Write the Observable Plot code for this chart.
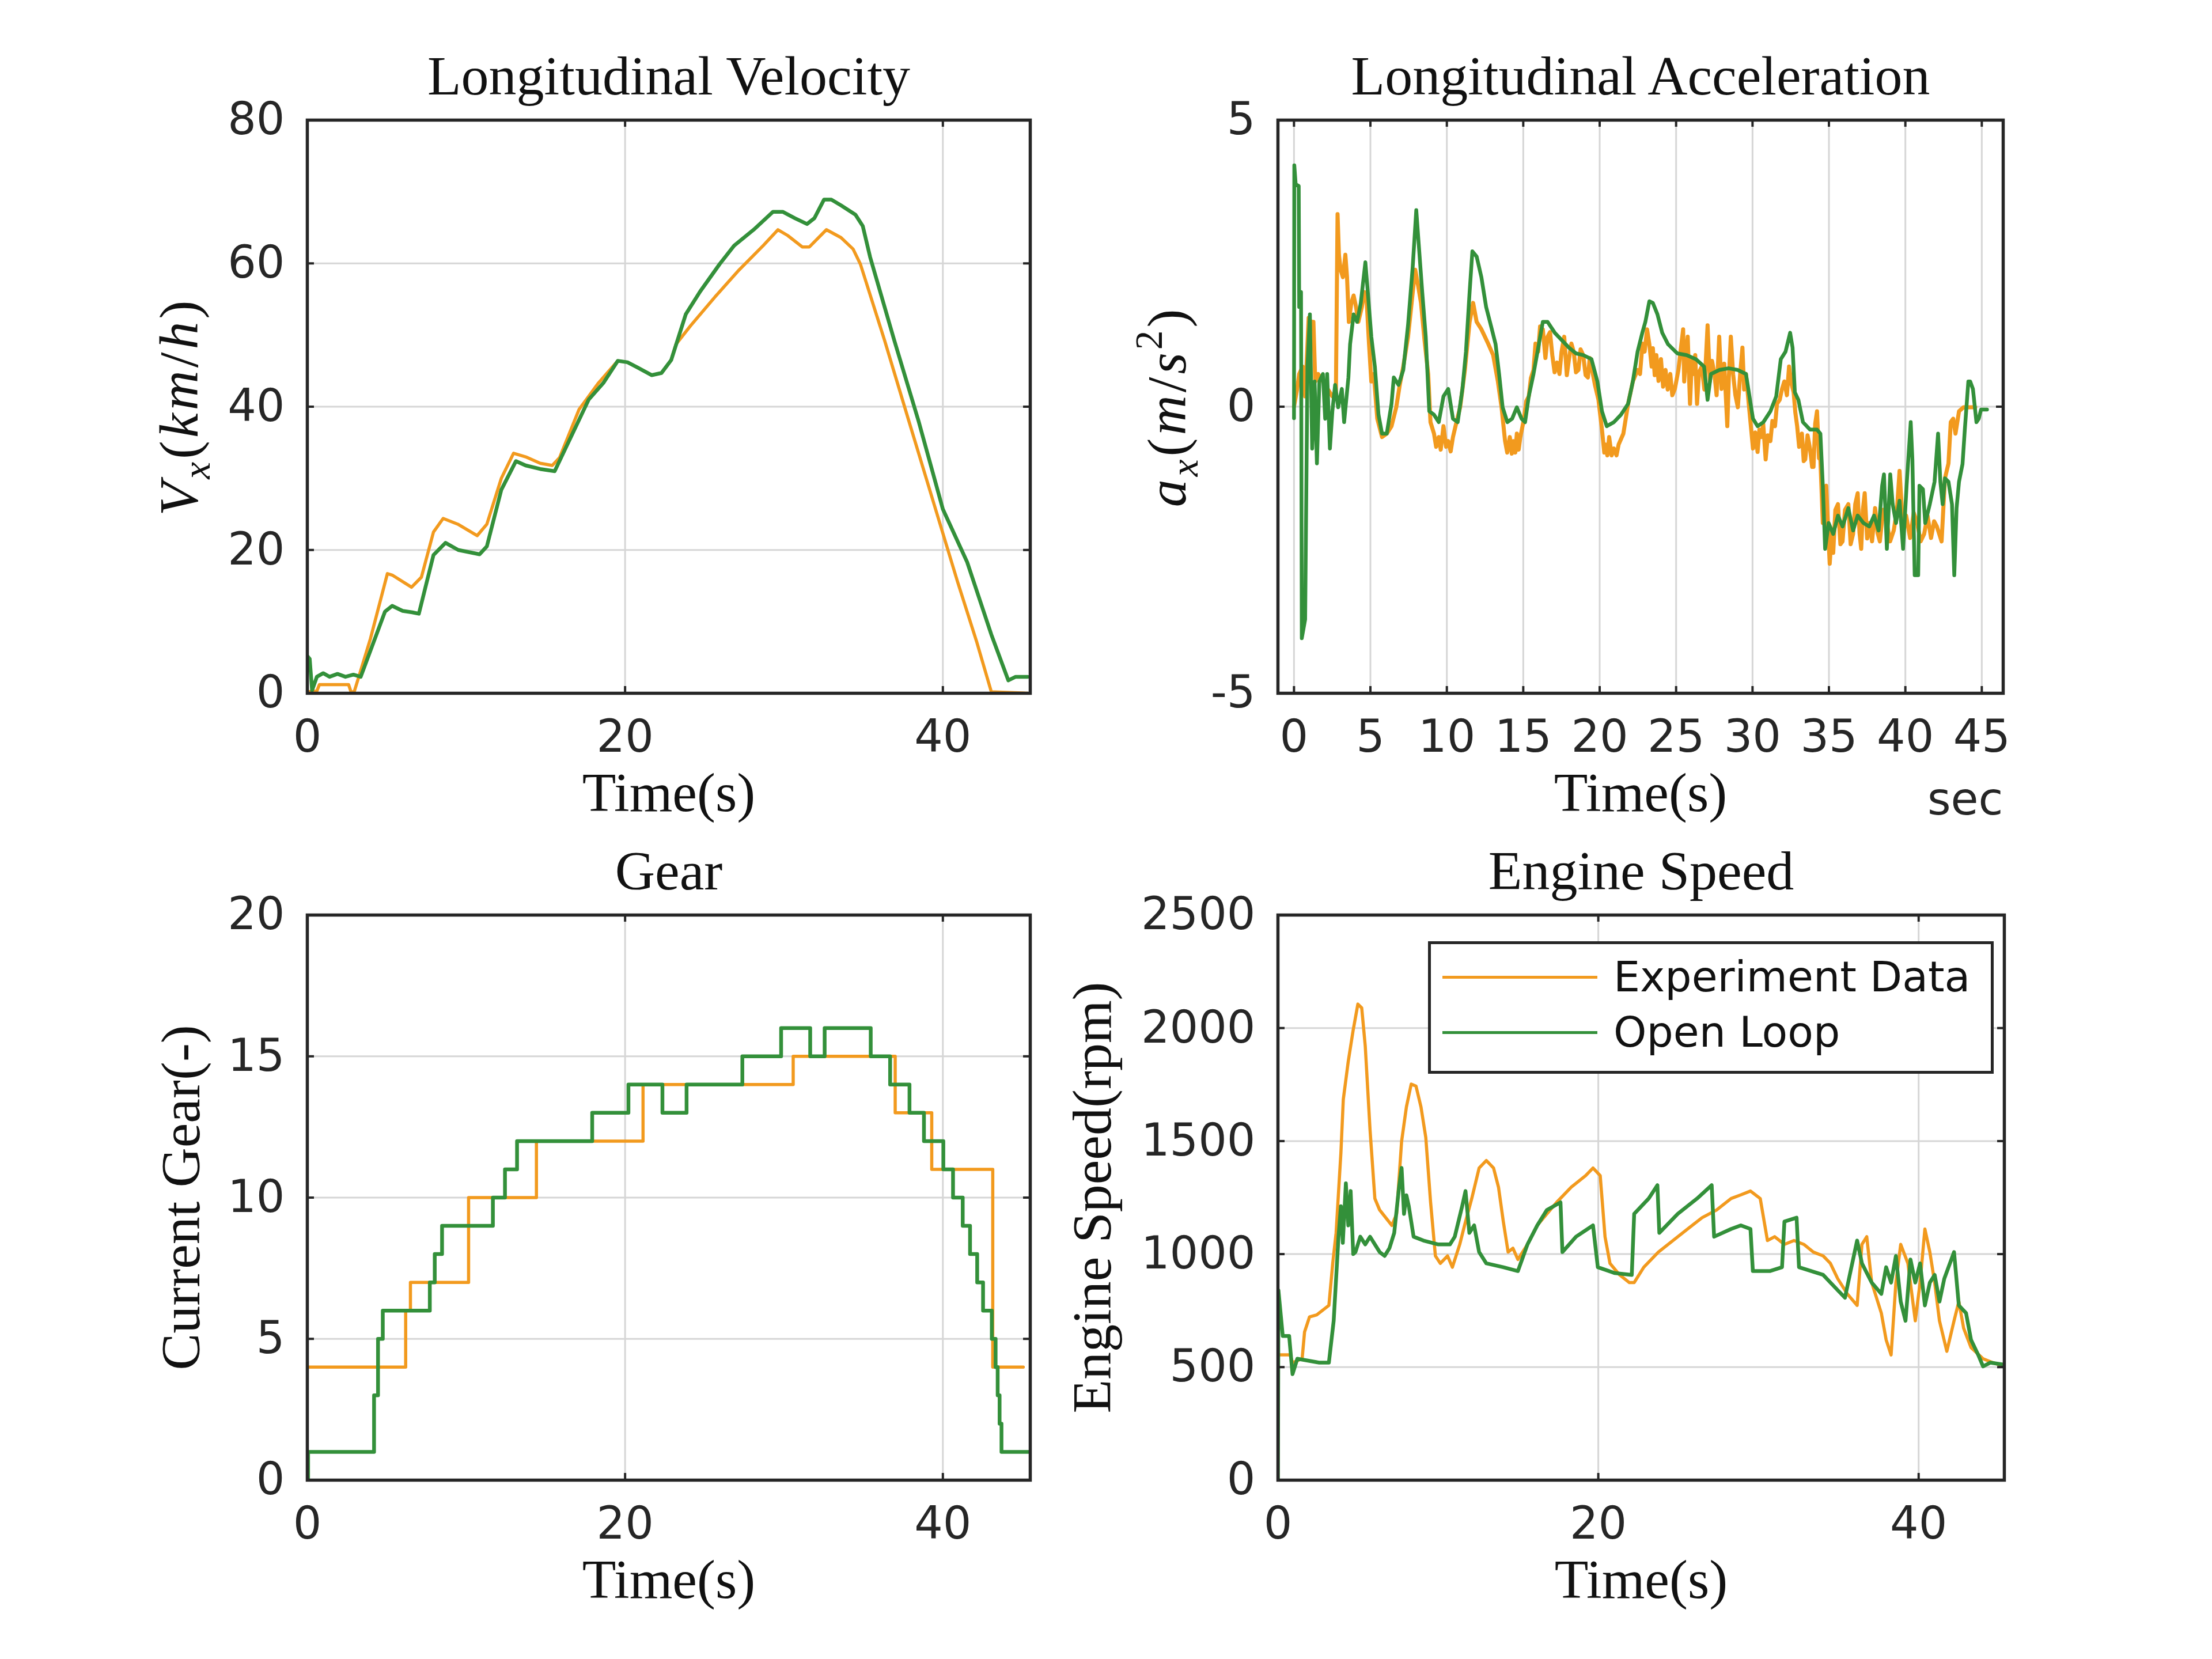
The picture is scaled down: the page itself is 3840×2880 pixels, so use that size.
<!DOCTYPE html>
<html>
<head>
<meta charset="utf-8">
<script src="https://cdn.jsdelivr.net/npm/d3@7"></script>
<script src="https://cdn.jsdelivr.net/npm/@observablehq/plot@0.6"></script>
<style>
  html, body { margin: 0; padding: 0; background: #fff; }
  #page { position: relative; width: 3840px; height: 2880px; background: #fff; overflow: hidden; }
  .panel { position: absolute; }
  .legend { position: absolute; box-sizing: border-box; background: #fff; border: 5px solid #262626;
            font-family: 'DejaVu Sans', sans-serif; font-size: 73px; color: #111; }
  .legend .row { position: absolute; left: 0; right: 0; height: 0; }
  .legend .swatch { position: absolute; left: 20px; width: 269px; height: 5px; top: -2.5px; }
  .legend .label { position: absolute; left: 317px; top: -40px; line-height: 80px; white-space: nowrap; }
</style>
</head>
<body>
<div id="page"></div>
<script>
// ---- Series: [time (s), value] ----
const velExp = [[0,0.2],[0.6,0.3],[0.76,1.2],[2.6,1.2],[2.75,0.2],[2.95,0.2],[3.97,7.6],[5.04,16.7],[5.34,16.5],[6.56,14.8],[7.18,16.2],[7.94,22.5],[8.55,24.4],[9.47,23.6],[10.69,22.0],[11.3,23.6],[12.21,30.0],[12.98,33.5],[13.74,33.0],[14.66,32.1],[15.42,31.8],[15.88,32.9],[17.1,39.6],[18.32,43.3],[19.54,46.4],[20.15,46.2],[20.76,45.5],[21.68,44.4],[22.29,44.7],[22.9,46.5],[23.2,48.7],[24.12,51.3],[25.65,55.3],[27.18,59.1],[28.7,62.5],[29.62,64.7],[30.23,63.9],[31.15,62.3],[31.6,62.3],[32.67,64.7],[33.59,63.6],[34.35,62.0],[34.81,59.9],[36.34,49.2],[37.86,38.0],[39.39,26.8],[40.92,15.6],[42.14,7.1],[43.05,0.2],[45.34,0.0]];
const velSim = [[0,5.2],[0.15,4.8],[0.3,0.4],[0.6,2.3],[1.0,2.8],[1.4,2.3],[1.9,2.7],[2.4,2.3],[2.9,2.6],[3.36,2.3],[4.89,11.4],[5.34,12.2],[6.0,11.5],[6.6,11.3],[7.02,11.1],[7.94,19.3],[8.7,21.0],[9.5,20.0],[10.84,19.4],[11.3,20.5],[12.21,28.4],[13.13,32.4],[13.74,31.8],[14.66,31.3],[15.57,31.0],[16.49,35.3],[17.71,41.0],[18.63,43.3],[19.54,46.4],[20.15,46.2],[20.76,45.5],[21.68,44.4],[22.29,44.7],[22.9,46.5],[23.82,52.9],[24.73,56.1],[25.95,59.9],[26.87,62.5],[28.09,64.7],[29.31,67.2],[29.92,67.2],[30.69,66.3],[31.45,65.5],[31.91,66.3],[32.52,68.9],[32.98,68.9],[33.59,68.1],[34.5,66.8],[34.96,65.2],[35.42,60.9],[36.95,49.2],[38.47,38.0],[40.0,25.7],[41.53,18.3],[43.05,8.2],[44.12,1.8],[44.58,2.3],[45.34,2.3]];

const accExp = [[0,0],[0.2,0.3],[0.34,0.57],[0.57,0.7],[0.73,0.18],[0.96,1.55],[1.11,1.48],[1.27,1.48],[1.39,0.44],[1.58,0.57],[1.89,0.44],[2.2,0.31],[2.51,0.18],[2.74,0.18],[2.85,3.36],[2.94,2.65],[3.05,2.39],[3.2,2.26],[3.36,2.65],[3.47,2.26],[3.59,1.48],[3.75,1.81],[3.9,1.94],[4.06,1.74],[4.21,1.48],[4.44,1.74],[4.6,2.0],[4.75,1.87],[4.91,1.09],[5.06,0.44],[5.22,0.57],[5.45,-0.21],[5.76,-0.53],[6.07,-0.47],[6.38,-0.34],[6.69,-0.01],[6.92,0.38],[7.15,0.7],[7.46,1.22],[7.77,2.0],[7.93,2.39],[8.11,2.13],[8.31,1.81],[8.54,1.16],[8.78,0.57],[8.93,-0.27],[9.16,-0.47],[9.3,-0.7],[9.47,-0.53],[9.6,-0.75],[9.78,-0.34],[9.95,-0.7],[10.09,-0.6],[10.25,-0.78],[10.4,-0.53],[10.63,-0.27],[10.87,-0.01],[11.18,0.64],[11.49,1.48],[11.72,1.81],[11.95,1.48],[12.26,1.35],[12.49,1.22],[12.72,1.09],[13.03,0.9],[13.34,0.44],[13.58,-0.01],[13.81,-0.6],[13.95,-0.8],[14.12,-0.53],[14.25,-0.82],[14.35,-0.6],[14.48,-0.8],[14.58,-0.47],[14.7,-0.75],[14.81,-0.53],[15.05,-0.21],[15.2,0.1],[15.36,0.18],[15.5,0.5],[15.67,0.64],[15.8,1.1],[15.98,0.96],[16.1,1.4],[16.28,1.35],[16.45,0.85],[16.59,1.22],[16.75,1.3],[16.9,0.9],[17.05,0.6],[17.21,0.77],[17.37,0.57],[17.5,0.95],[17.68,1.22],[17.85,0.55],[17.99,0.83],[18.15,1.1],[18.3,0.96],[18.45,0.6],[18.61,0.64],[18.75,1.0],[18.92,0.9],[19.08,0.55],[19.23,0.51],[19.35,0.85],[19.46,0.7],[19.69,0.38],[19.92,0.12],[20.15,-0.4],[20.3,-0.8],[20.39,-0.66],[20.5,-0.85],[20.62,-0.53],[20.78,-0.85],[20.93,-0.73],[21.1,-0.85],[21.24,-0.66],[21.55,-0.47],[21.86,0.05],[22.17,0.44],[22.48,0.64],[22.64,0.57],[22.8,1.1],[22.94,0.96],[23.1,1.35],[23.25,1.09],[23.4,0.7],[23.48,1.02],[23.6,0.55],[23.71,0.9],[23.85,0.45],[24.01,0.83],[24.15,0.35],[24.31,0.64],[24.45,0.3],[24.62,0.57],[24.75,0.2],[24.92,0.31],[25.15,0.64],[25.46,1.35],[25.53,0.44],[25.65,0.9],[25.76,1.22],[25.91,0.05],[26.03,0.8],[26.14,0.57],[26.25,0.9],[26.37,0.05],[26.5,0.6],[26.68,0.7],[26.85,0.3],[27.06,1.42],[27.21,0.44],[27.35,0.8],[27.51,0.57],[27.65,0.2],[27.82,1.22],[27.97,0.31],[28.15,0.75],[28.35,-0.34],[28.45,0.5],[28.58,1.22],[28.73,0.57],[28.88,0.2],[29.04,-0.01],[29.2,0.6],[29.34,1.03],[29.45,0.3],[29.57,0.57],[29.8,-0.08],[30.03,-0.73],[30.18,-0.45],[30.33,-0.79],[30.45,-0.4],[30.56,-0.53],[30.7,-0.3],[30.86,-0.92],[31.0,-0.5],[31.17,-0.6],[31.3,-0.25],[31.47,-0.34],[31.6,0.05],[31.78,0.12],[31.92,0.3],[32.08,0.44],[32.25,0.2],[32.39,0.7],[32.55,0.4],[32.69,0.25],[32.8,-0.1],[32.92,-0.34],[33.05,-0.7],[33.23,-0.47],[33.35,-0.95],[33.45,-0.92],[33.6,-0.5],[33.76,-0.73],[33.9,-1.05],[33.99,-1.05],[34.1,-0.3],[34.22,-0.08],[34.35,-0.9],[34.44,-0.92],[34.6,-2.03],[34.82,-1.38],[35.05,-2.74],[35.18,-2.2],[35.28,-2.55],[35.42,-1.8],[35.59,-1.7],[35.75,-2.4],[35.89,-2.35],[36.05,-1.8],[36.27,-1.7],[36.42,-2.4],[36.58,-2.22],[36.72,-1.7],[36.88,-1.51],[37.0,-2.2],[37.11,-2.48],[37.22,-1.8],[37.34,-1.51],[37.5,-2.3],[37.64,-2.03],[37.82,-2.35],[38.02,-1.77],[38.18,-2.2],[38.33,-2.35],[38.55,-1.8],[38.79,-2.03],[39.0,-2.35],[39.24,-2.16],[39.45,-1.8],[39.62,-1.12],[39.85,-2.16],[40.05,-1.9],[40.31,-2.29],[40.55,-1.85],[40.77,-2.03],[41.0,-2.35],[41.23,-2.22],[41.45,-1.9],[41.68,-2.29],[41.88,-2.0],[42.06,-2.09],[42.37,-2.35],[42.59,-1.25],[42.82,-0.99],[42.97,-0.27],[43.13,-0.21],[43.28,-0.47],[43.51,-0.08],[43.81,-0.01],[44.27,-0.01],[44.57,-0.01]];
const accSim = [[0,-0.2],[0.02,4.21],[0.11,3.88],[0.31,3.85],[0.34,1.74],[0.46,2.0],[0.51,-4.04],[0.73,-3.71],[0.88,0.7],[1.04,1.61],[1.19,-0.73],[1.35,0.44],[1.5,-0.99],[1.66,0.44],[1.89,0.57],[2.04,-0.21],[2.17,0.57],[2.35,-0.73],[2.51,-0.08],[2.69,0.38],[2.89,-0.01],[3.13,0.31],[3.28,-0.27],[3.56,0.51],[3.67,1.09],[3.9,1.61],[4.13,1.48],[4.37,1.81],[4.67,2.52],[4.83,2.0],[5.06,1.22],[5.29,0.7],[5.53,-0.14],[5.76,-0.47],[6.07,-0.47],[6.38,0.05],[6.53,0.51],[6.84,0.38],[7.15,0.64],[7.46,1.42],[7.77,2.45],[8.0,3.43],[8.16,2.84],[8.39,2.0],[8.62,1.22],[8.85,-0.08],[9.16,-0.14],[9.47,-0.27],[9.78,0.18],[10.09,0.31],[10.4,-0.21],[10.71,-0.27],[11.02,0.31],[11.25,0.96],[11.49,2.0],[11.67,2.71],[11.95,2.62],[12.26,2.26],[12.57,1.74],[12.88,1.42],[13.19,1.09],[13.42,0.57],[13.65,-0.01],[13.96,-0.27],[14.27,-0.21],[14.58,-0.01],[14.89,-0.21],[15.12,-0.27],[15.36,0.18],[15.67,0.57],[15.98,1.03],[16.28,1.48],[16.59,1.48],[17.06,1.29],[17.52,1.16],[17.99,1.03],[18.45,0.93],[18.92,0.9],[19.46,0.83],[19.85,0.44],[20.15,-0.08],[20.46,-0.34],[20.93,-0.27],[21.39,-0.14],[21.86,0.05],[22.17,0.44],[22.48,0.96],[22.79,1.29],[22.99,1.48],[23.25,1.84],[23.48,1.81],[23.78,1.61],[24.09,1.29],[24.47,1.09],[25.08,0.93],[25.69,0.9],[26.29,0.83],[26.83,0.7],[27.06,0.12],[27.28,0.57],[27.82,0.64],[28.43,0.67],[29.04,0.64],[29.57,0.57],[29.8,0.18],[30.03,-0.21],[30.33,-0.34],[30.71,-0.27],[31.17,-0.08],[31.55,0.18],[31.85,0.83],[32.16,0.96],[32.46,1.29],[32.62,1.03],[32.77,0.25],[33.0,0.12],[33.3,-0.27],[33.76,-0.4],[34.22,-0.4],[34.44,-0.47],[34.6,-1.38],[34.75,-2.48],[34.98,-2.03],[35.28,-2.22],[35.59,-1.9],[35.89,-2.09],[36.27,-1.77],[36.58,-2.16],[36.88,-1.9],[37.26,-2.03],[37.64,-2.09],[37.95,-1.9],[38.25,-2.16],[38.48,-1.38],[38.6,-1.18],[38.79,-2.48],[39.01,-1.18],[39.17,-1.7],[39.39,-2.03],[39.62,-1.64],[39.85,-2.48],[40.08,-1.38],[40.35,-0.27],[40.46,-0.92],[40.61,-2.94],[40.84,-2.94],[40.92,-1.38],[41.15,-1.44],[41.3,-2.03],[41.6,-1.7],[41.91,-1.31],[42.14,-0.47],[42.29,-1.31],[42.44,-1.7],[42.59,-1.25],[42.82,-1.31],[43.05,-1.7],[43.2,-2.94],[43.35,-1.77],[43.51,-1.31],[43.74,-1.0],[43.89,-0.4],[44.12,0.44],[44.24,0.44],[44.42,0.31],[44.65,-0.27],[44.8,-0.21],[44.95,-0.05],[45.34,-0.05]];

const gearExp = [[0,4],[6.19,6],[6.49,7],[10.15,10],[14.42,12],[21.13,14],[30.58,15],[37.0,13],[39.3,11],[43.14,4],[45.06,4]];
const gearSim = [[0,0],[0.05,1],[4.2,3],[4.45,5],[4.75,6],[7.71,7],[8.02,8],[8.48,9],[11.68,10],[12.44,11],[13.2,12],[17.93,13],[20.21,14],[22.35,13],[23.87,14],[27.38,15],[29.82,16],[31.65,15],[32.56,16],[35.46,15],[36.68,14],[37.9,13],[38.81,12],[40.03,11],[40.64,10],[41.25,9],[41.71,8],[42.16,7],[42.53,6],[43.08,5],[43.32,4],[43.45,3],[43.57,2],[43.69,1],[45.4,1]];

const rpmExp = [[0,554],[0.76,554],[0.91,520],[1.51,537],[1.66,655],[1.97,722],[2.42,731],[3.18,773],[3.42,959],[3.63,1094],[3.93,1448],[4.08,1684],[4.39,1853],[4.69,1988],[4.99,2106],[5.23,2089],[5.45,1921],[5.75,1549],[6.05,1246],[6.35,1195],[7.11,1127],[7.41,1178],[7.72,1499],[8.02,1651],[8.32,1752],[8.62,1743],[8.93,1651],[9.23,1516],[9.53,1229],[9.83,992],[10.14,959],[10.59,992],[10.89,942],[11.35,1043],[11.65,1127],[12.1,1246],[12.56,1381],[13.01,1414],[13.46,1381],[13.77,1296],[14.07,1144],[14.37,1009],[14.67,1026],[14.98,976],[15.58,1043],[16.19,1127],[16.79,1178],[17.4,1229],[18.31,1296],[19.21,1347],[19.67,1381],[20.12,1347],[20.42,1077],[20.73,959],[21.33,908],[21.94,874],[22.24,874],[22.84,942],[23.75,1009],[24.66,1060],[25.57,1111],[26.48,1161],[27.38,1195],[28.29,1246],[28.9,1262],[29.5,1279],[30.11,1246],[30.56,1060],[31.01,1077],[31.62,1043],[32.22,1060],[32.83,1043],[33.43,1009],[34.04,992],[34.49,959],[34.95,891],[35.55,824],[36.16,773],[36.46,1043],[36.76,1077],[37.07,874],[37.67,739],[37.97,621],[38.28,554],[38.58,874],[38.88,1043],[39.33,959],[39.79,705],[40.09,874],[40.39,1111],[40.7,1009],[41.0,874],[41.3,705],[41.76,570],[42.21,705],[42.51,790],[42.81,672],[43.27,587],[44.02,537],[44.63,520],[45.33,503]];
const rpmSim = [[0,0],[0.03,840],[0.3,638],[0.7,638],[0.91,469],[1.21,537],[2.57,520],[3.18,520],[3.48,705],[3.78,1077],[3.93,1212],[4.05,1050],[4.24,1313],[4.39,1127],[4.54,1279],[4.7,1000],[4.84,1009],[5.14,1077],[5.45,1043],[5.75,1077],[6.05,1043],[6.35,1009],[6.66,992],[6.96,1026],[7.26,1094],[7.56,1296],[7.72,1381],[7.87,1178],[8.02,1260],[8.17,1212],[8.47,1077],[9.08,1060],[9.98,1043],[10.74,1043],[11.04,1077],[11.5,1212],[11.71,1279],[11.95,1094],[12.25,1127],[12.56,1009],[13.01,959],[14.07,942],[14.98,925],[15.58,1043],[16.19,1127],[16.79,1195],[17.64,1229],[17.76,1009],[18.61,1077],[19.67,1127],[19.97,942],[21.03,916],[22.09,908],[22.24,1178],[23.15,1246],[23.69,1305],[23.81,1094],[24.96,1178],[26.17,1246],[27.08,1305],[27.23,1077],[28.29,1111],[28.9,1127],[29.5,1111],[29.65,925],[30.71,925],[31.47,942],[31.62,1144],[32.38,1161],[32.53,942],[34.04,908],[34.95,840],[35.4,807],[35.7,908],[36.16,1060],[36.46,959],[37.07,874],[37.67,824],[37.97,942],[38.28,874],[38.58,992],[38.88,790],[39.18,705],[39.49,976],[39.79,874],[40.09,959],[40.39,773],[40.7,874],[41.0,908],[41.3,790],[41.6,891],[42.21,1009],[42.51,773],[42.96,739],[43.27,621],[43.72,554],[44.02,503],[44.48,520],[45.33,511]];

// ---- Axis ticks ----
const timeTicks = [0, 20, 40];
const secTicks = [0, 5, 10, 15, 20, 25, 30, 35, 40, 45];
const velTicks = [0, 20, 40, 60, 80];
const accTicks = [-5, 0, 5];
const gearTicks = [0, 5, 10, 15, 20];
const rpmTicks = [0, 500, 1000, 1500, 2000, 2500];

const seriesNames = ["Experiment Data", "Open Loop"];
const seriesColors = ["#F29A1E", "#33903A"];

const INK = "#262626";
const SERIF = "'Liberation Serif', 'DejaVu Serif', serif";
const SANS = "'DejaVu Sans', sans-serif";
const page = document.getElementById("page");

// Rebuild a label as math-style text: italic variables, sub/superscripts.
function mathText(svg, key, parts, size) {
  d3.select(svg).selectAll("text").filter(function () { return this.textContent === key; }).each(function () {
    const t = d3.select(this);
    t.text(null).attr("letter-spacing", 5);
    let shift = 0;
    for (const [s, kind] of parts) {
      const span = t.append("tspan").text(s);
      const target = kind === "sub" ? 0.22 * size : kind === "sup" ? -0.42 * size : 0;
      if (target !== shift) { span.attr("dy", target - shift); shift = target; }
      if (kind === "i" || kind === "sub") span.attr("font-style", "italic");
      if (kind === "sub" || kind === "sup") span.attr("font-size", 0.7 * size);
    }
  });
}

function panel(cfg) {
  const width = 1920, height = 1440;
  const [mt, mr, mb, ml] = cfg.margins;
  const fh = height - mt - mb, fw = width - ml - mr;
  const tl = 12;
  const [wExp, wSim] = cfg.widths || [5.5, 6.5];
  const xy = {x: d => d[0], y: d => d[1]};
  const marks = [
    Plot.gridX(cfg.xGrid, {stroke: "#d6d6d6", strokeOpacity: 1, strokeWidth: 3}),
    Plot.gridY(cfg.yGrid, {stroke: "#d6d6d6", strokeOpacity: 1, strokeWidth: 3}),
    Plot.line(cfg.exp, {...xy, stroke: seriesColors[0], strokeWidth: wExp, curve: cfg.curve || "linear", clip: true}),
    Plot.line(cfg.sim, {...xy, stroke: seriesColors[1], strokeWidth: wSim, curve: cfg.curve || "linear", clip: true}),
    Plot.ruleX(cfg.xTicks, {stroke: INK, strokeWidth: 4, insetTop: fh - tl}),
    Plot.ruleX(cfg.xTicks, {stroke: INK, strokeWidth: 4, insetBottom: fh - tl}),
    Plot.ruleY(cfg.yTicks, {stroke: INK, strokeWidth: 4, insetRight: fw - tl}),
    Plot.ruleY(cfg.yTicks, {stroke: INK, strokeWidth: 4, insetLeft: fw - tl}),
    Plot.frame({stroke: INK, strokeWidth: 5.5}),
    Plot.axisX(cfg.xTicks, {tickSize: 0, tickPadding: 46, label: null, tickFormat: d => String(d), fontSize: 78, fontFamily: SANS, fill: INK}),
    Plot.axisY(cfg.yTicks, {tickSize: 0, tickPadding: 39, label: null, tickFormat: d => String(d), fontSize: 78, fontFamily: SANS, fill: INK}),
    Plot.text([cfg.title], {text: d => d, frameAnchor: "top", textAnchor: "middle", lineAnchor: "bottom", dy: -45, fontFamily: SERIF, fontSize: 96, fill: "#111"}),
    Plot.text(["Time(s)"], {text: d => d, frameAnchor: "bottom", textAnchor: "middle", lineAnchor: "bottom", dy: 204, fontFamily: SERIF, fontSize: 96, fill: "#111"}),
    Plot.text([cfg.yLabel], {text: d => d, frameAnchor: "left", textAnchor: "middle", lineAnchor: "bottom", rotate: -90, dx: cfg.yLabelDx, fontFamily: SERIF, fontSize: 96, fill: "#111"}),
    ...(cfg.extra || [])
  ];
  const svg = Plot.plot({
    width, height,
    marginTop: mt, marginRight: mr, marginBottom: mb, marginLeft: ml,
    x: {domain: cfg.xDomain},
    y: {domain: cfg.yDomain},
    style: {fontFamily: SANS, fontSize: "78px", color: INK, background: "transparent", overflow: "visible"},
    marks
  });
  if (cfg.math) mathText(svg, cfg.yLabel, cfg.math, 96);
  const holder = document.createElement("div");
  holder.className = "panel";
  holder.style.left = cfg.left + "px";
  holder.style.top = cfg.top + "px";
  holder.appendChild(svg);
  page.appendChild(holder);
}

panel({
  left: 0, top: 0, margins: [208, 132, 237, 533],
  xDomain: [0, 45.5], yDomain: [0, 80],
  xTicks: timeTicks, yTicks: velTicks, xGrid: timeTicks, yGrid: velTicks,
  title: "Longitudinal Velocity", yLabel: "Vx(km/h)", yLabelDx: -191,
  math: [["V", "i"], ["x", "sub"], ["(", ""], ["km", "i"], ["/", ""], ["h", "i"], [")", ""]],
  exp: velExp, sim: velSim
});

panel({
  left: 1920, top: 0, margins: [208, 363, 237, 298],
  xDomain: [-1.05, 46.4], yDomain: [-5, 5],
  xTicks: secTicks, yTicks: accTicks, xGrid: secTicks, yGrid: [0],
  title: "Longitudinal Acceleration", yLabel: "ax(m/s2)", yLabelDx: -161,
  math: [["a", "i"], ["x", "sub"], ["(", ""], ["m", "i"], ["/", ""], ["s", "i"], ["2", "sup"], [")", ""]],
  exp: accExp, sim: accSim, widths: [7, 6.5],
  extra: [Plot.text(["sec"], {text: d => d, frameAnchor: "bottom-right", textAnchor: "end", lineAnchor: "bottom", dy: 210, fontFamily: SANS, fontSize: 78, fill: INK})]
});

panel({
  left: 0, top: 1440, margins: [148, 132, 311, 533],
  xDomain: [0, 45.5], yDomain: [0, 20],
  xTicks: timeTicks, yTicks: gearTicks, xGrid: timeTicks, yGrid: gearTicks,
  title: "Gear", yLabel: "Current Gear(-)", yLabelDx: -188,
  exp: gearExp, sim: gearSim, curve: "step-after"
});

panel({
  left: 1920, top: 1440, margins: [148, 361, 311, 298],
  xDomain: [0, 45.35], yDomain: [0, 2500],
  xTicks: timeTicks, yTicks: rpmTicks, xGrid: timeTicks, yGrid: rpmTicks,
  title: "Engine Speed", yLabel: "Engine Speed(rpm)", yLabelDx: -291,
  exp: rpmExp, sim: rpmSim
});

// Legend inside the engine speed axes
const legend = document.createElement("div");
legend.className = "legend";
Object.assign(legend.style, {left: "2479px", top: "1634px", width: "982px", height: "230px"});
seriesNames.forEach((name, i) => {
  const row = document.createElement("div");
  row.className = "row";
  row.style.top = (i === 0 ? 57 : 153) + "px";
  const sw = document.createElement("div");
  sw.className = "swatch";
  sw.style.background = seriesColors[i];
  const lb = document.createElement("div");
  lb.className = "label";
  lb.textContent = name;
  row.appendChild(sw);
  row.appendChild(lb);
  legend.appendChild(row);
});
page.appendChild(legend);
</script>
</body>
</html>
